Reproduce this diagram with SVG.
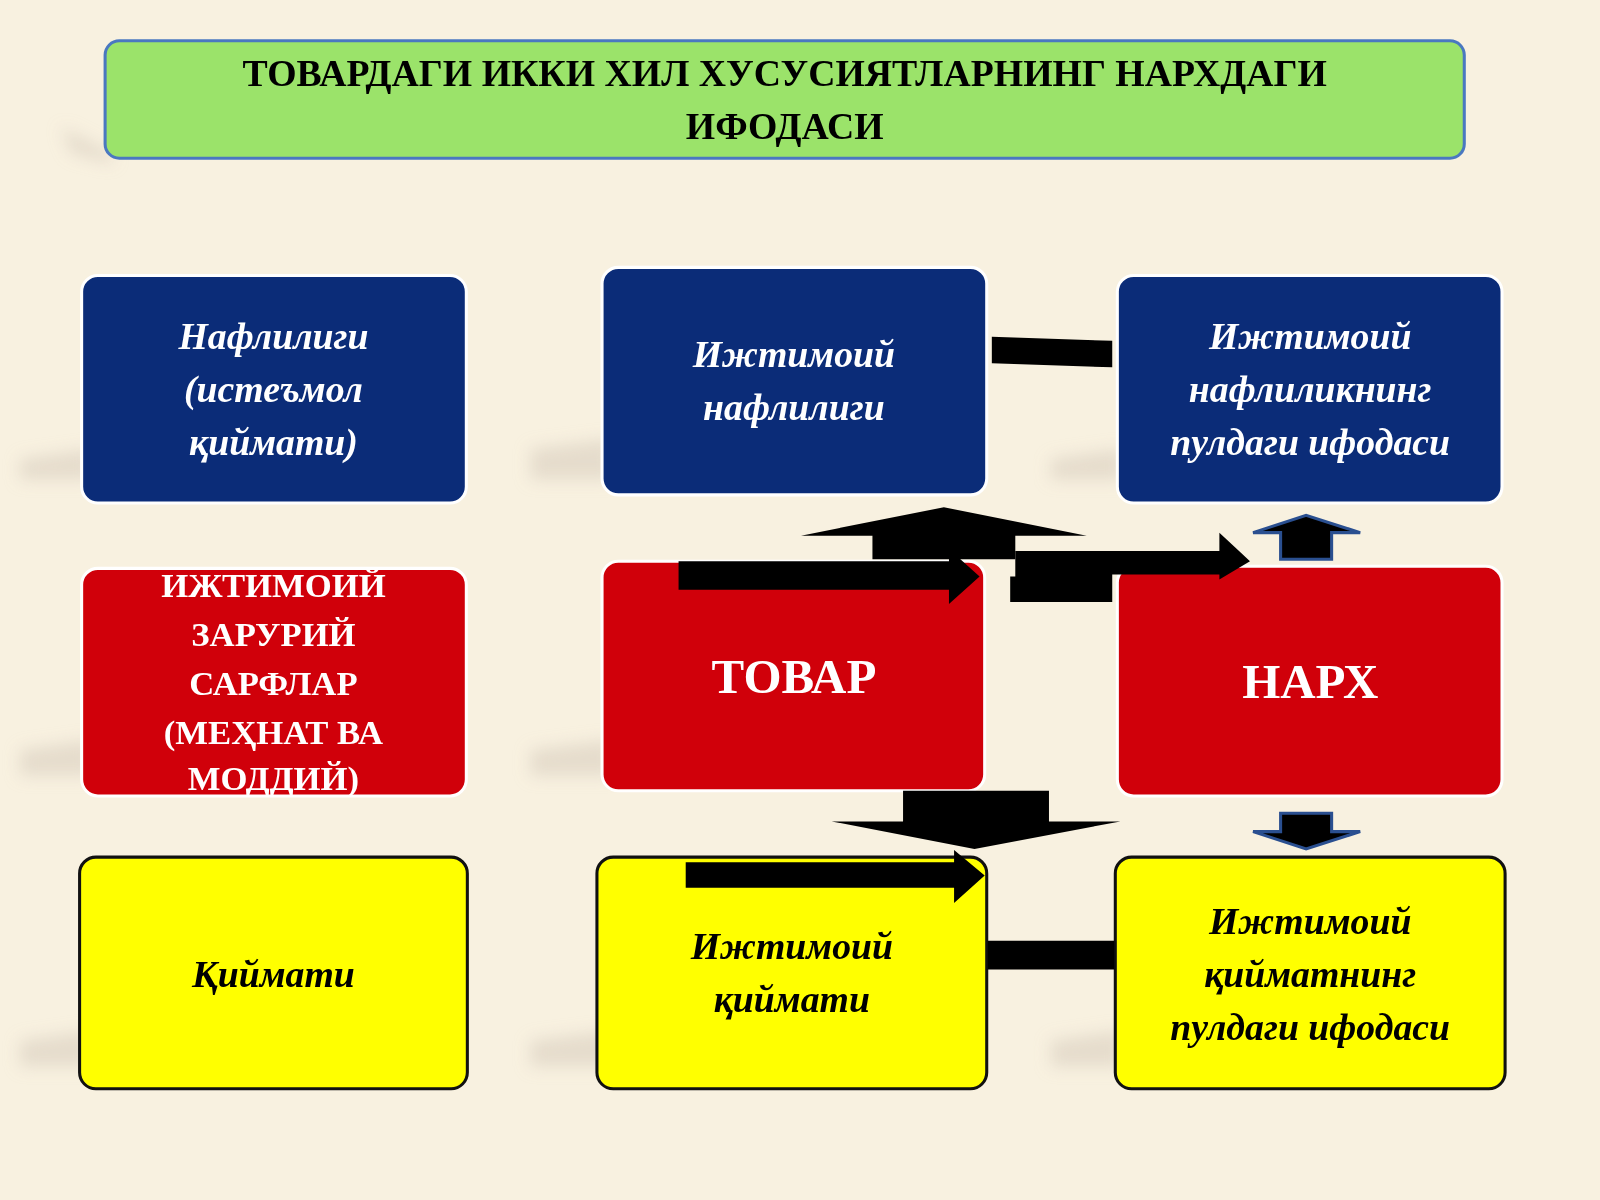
<svg xmlns="http://www.w3.org/2000/svg" width="1600" height="1200" viewBox="0 0 1600 1200">
<defs>
<style>
.t{font-family:"Liberation Serif",serif;font-weight:bold;text-anchor:middle}
.bi{font-style:italic;fill:#fff;font-size:37px}
.yi{font-style:italic;fill:#000;font-size:37px}
.blue{fill:#0b2c78;stroke:#fff;stroke-width:3}
.red{fill:#d0000a;stroke:#fff;stroke-width:3}
.yel{fill:#ffff00;stroke:#111;stroke-width:3}
.ar{fill:#000}
.sh{fill:#d8cfbf;opacity:0.6}
</style>
<filter id="bl"><feGaussianBlur stdDeviation="8"/></filter>
</defs>
<rect width="1600" height="1200" fill="#f8f1e0"/>
<g transform="scale(1.0204)">
<g id="shadows" filter="url(#bl)">
<path class="sh" d="M60 125 L110 150 L110 160 L70 150Z"/>
<path class="sh" d="M20 450 L90 440 L90 470 L20 470Z"/>
<path class="sh" d="M520 440 L600 430 L600 470 L520 470Z"/>
<path class="sh" d="M1030 450 L1100 440 L1100 470 L1030 470Z"/>
<path class="sh" d="M20 735 L90 725 L90 760 L20 760Z"/>
<path class="sh" d="M520 735 L600 725 L600 760 L520 760Z"/>
<path class="sh" d="M20 1020 L90 1010 L90 1045 L20 1045Z"/>
<path class="sh" d="M520 1020 L600 1010 L600 1045 L520 1045Z"/>
<path class="sh" d="M1030 1020 L1100 1010 L1100 1045 L1030 1045Z"/>
</g>
<g id="title">
<rect x="103" y="40" width="1332" height="115" rx="14" fill="#9be36a" stroke="#4a78c0" stroke-width="3"/>
<text class="t" x="769" y="84" font-size="37">ТОВАРДАГИ ИККИ ХИЛ ХУСУСИЯТЛАРНИНГ НАРХДАГИ</text>
<text class="t" x="769" y="136" font-size="37">ИФОДАСИ</text>
</g>
<g id="n1"><rect class="blue" x="80" y="270" width="377" height="223" rx="16"/>
<text class="t bi" x="268" y="342">Нафлилиги</text><text class="t bi" x="268" y="394">(истеъмол</text><text class="t bi" x="268" y="446">қиймати)</text></g>
<g id="n2"><rect class="blue" x="590" y="262" width="377" height="223" rx="16"/>
<text class="t bi" x="778" y="360">Ижтимоий</text><text class="t bi" x="778" y="412">нафлилиги</text></g>
<g id="n3"><rect class="blue" x="1095" y="270" width="377" height="223" rx="16"/>
<text class="t bi" x="1284" y="342">Ижтимоий</text><text class="t bi" x="1284" y="394">нафлиликнинг</text><text class="t bi" x="1284" y="446">пулдаги ифодаси</text></g>
<g id="n4"><rect class="red" x="80" y="557" width="377" height="223" rx="16"/>
<g class="t" fill="#fff" font-size="34"><text x="268" y="585">ИЖТИМОИЙ</text><text x="268" y="633">ЗАРУРИЙ</text><text x="268" y="681">САРФЛАР</text><text x="268" y="729">(МЕҲНАТ ВА</text><text x="268" y="774">МОДДИЙ)</text></g></g>
<g id="n5"><rect class="red" x="590" y="550" width="375" height="225" rx="16"/>
<text class="t" x="778" y="679" fill="#fff" font-size="48">ТОВАР</text></g>
<g id="n6"><rect class="red" x="1095" y="555" width="377" height="225" rx="16"/>
<text class="t" x="1284" y="684" fill="#fff" font-size="48">НАРХ</text></g>
<g id="n7"><rect class="yel" x="78" y="840" width="380" height="227" rx="16"/>
<text class="t yi" x="268" y="967">Қиймати</text></g>
<g id="n8"><rect class="yel" x="585" y="840" width="382" height="227" rx="16"/>
<text class="t yi" x="776" y="940">Ижтимоий</text><text class="t yi" x="776" y="992">қиймати</text></g>
<g id="n9"><rect class="yel" x="1093" y="840" width="382" height="227" rx="16"/>
<text class="t yi" x="1284" y="915">Ижтимоий</text><text class="t yi" x="1284" y="967">қийматнинг</text><text class="t yi" x="1284" y="1019">пулдаги ифодаси</text></g>
<g id="connectors">
<path class="ar" d="M972 330 L1090 334 L1090 360 L972 356Z"/>
<path class="ar" d="M968 922 L1092 922 L1092 950 L968 950Z"/>
<path class="ar" d="M855 548 L855 525 L785 525 L925 497 L1065 525 L995 525 L995 548Z"/>
<path class="ar" d="M995 540 L1195 540 L1195 522 L1225 550 L1195 568 L1195 563 L1090 563 L1090 590 L990 590 L990 565 L995 565Z"/>
<path class="ar" d="M665 550 L930 550 L930 538 L960 565 L930 592 L930 578 L665 578Z"/>
<path class="ar" stroke="#2a4f90" stroke-width="3" d="M1255 548 L1255 522 L1228 522 L1280 505 L1333 522 L1305 522 L1305 548Z"/>
<path class="ar" d="M885 775 L1028 775 L1028 805 L1098 805 L955 832 L815 805 L885 805Z"/>
<path class="ar" stroke="#2a4f90" stroke-width="3" d="M1255 797 L1305 797 L1305 815 L1333 815 L1280 832 L1228 815 L1255 815Z"/>
<path class="ar" d="M672 845 L935 845 L935 833 L965 858 L935 885 L935 870 L672 870Z"/>
</g>
</g>
</svg>
